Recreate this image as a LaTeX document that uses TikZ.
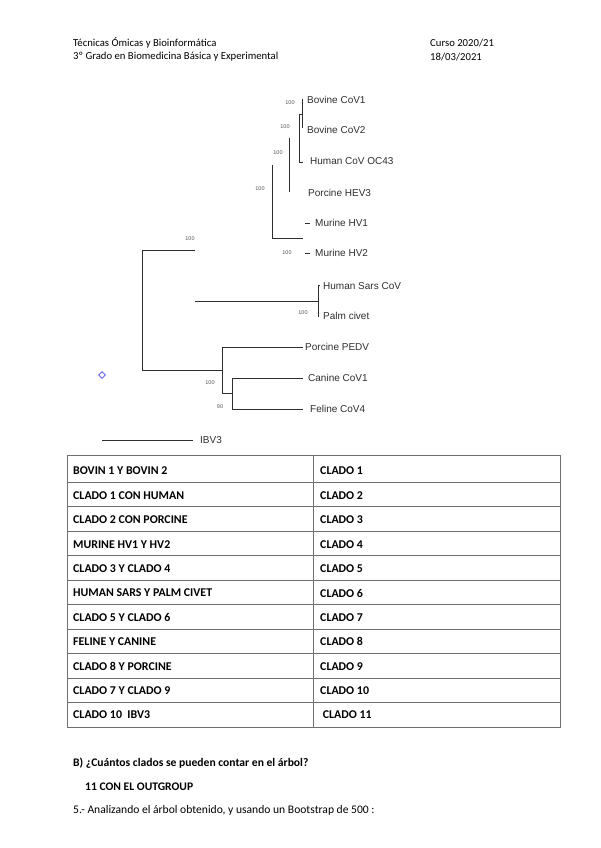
\documentclass[tikz,border=0pt]{standalone}
\usepackage{fontspec}
\setmainfont{Carlito}
\newfontfamily\treefont{Liberation Sans}
\usetikzlibrary{shapes.geometric}
\definecolor{TreeInk}{HTML}{2E2E2E}
\definecolor{TreeMuted}{HTML}{555555}
\definecolor{MarkBlue}{HTML}{4A4AE8}
\definecolor{RuleGray}{HTML}{707070}

\begin{document}
\begin{tikzpicture}[
        x=1pt,y=-1pt,
        head/.style={anchor=west,inner sep=0pt,font=\fontsize{10.7}{12}\selectfont},
        taxon/.style={anchor=west,inner sep=0pt,text=TreeInk,
          font=\treefont\fontsize{10}{12}\selectfont},
        boot/.style={inner sep=0pt,text=TreeMuted,font=\treefont\fontsize{5.5}{6}\selectfont},
        branch/.style={draw=TreeInk,line width=0.8pt},
        cell/.style={anchor=west,inner sep=0pt,font=\bfseries\fontsize{11.9}{13}\selectfont},
        grid/.style={draw=RuleGray,line width=0.8pt},
        body/.style={anchor=west,inner sep=0pt,font=\fontsize{11.6}{13}\selectfont}
      ]
        \useasboundingbox (0,0) rectangle (600,848);
        % header
        \node[head] (course) at (73,43) {Técnicas Ómicas y Bioinformática};
        \node[head] (degree) at (73,57) {3º Grado en Biomedicina Básica y Experimental};
        \node[head] (year) at (430,43) {Curso 2020/21};
        \node[head] (date) at (430,57) {18/03/2021};
        % taxa
        \node[taxon] (bov1) at (307,100) {Bovine CoV1};
        \node[taxon] (bov2) at (307,130) {Bovine CoV2};
        \node[taxon] (oc43) at (310,161) {Human CoV OC43};
        \node[taxon] (hev3) at (308,193) {Porcine HEV3};
        \node[taxon] (mhv1) at (315,223) {Murine HV1};
        \node[taxon] (mhv2) at (315,253) {Murine HV2};
        \node[taxon] (sars) at (323,286) {Human Sars CoV};
        \node[taxon] (civet) at (323,316) {Palm civet};
        \node[taxon] (pedv) at (305,347) {Porcine PEDV};
        \node[taxon] (ccov) at (308,378) {Canine CoV1};
        \node[taxon] (fcov) at (310,409) {Feline CoV4};
        \node[taxon] (ibv) at (200,440) {IBV3};
        % branch points
        \coordinate (bovA) at (302,99);
        \coordinate (bovB) at (302,128);
        \coordinate (ocA) at (299,114);
        \coordinate (ocB) at (299,162);
        \coordinate (hevA) at (289,138);
        \coordinate (hevB) at (289,192);
        \coordinate (murA) at (272,165);
        \coordinate (murB) at (272,238);
        \coordinate (rootA) at (142,250);
        \coordinate (rootB) at (142,370);
        \coordinate (sarsA) at (318,285);
        \coordinate (sarsB) at (318,317);
        \coordinate (sarsC) at (195,301);
        \coordinate (pedvA) at (222,347);
        \coordinate (pedvB) at (222,393);
        \coordinate (felA) at (232,378);
        \coordinate (felB) at (232,409);
        \coordinate (ibvA) at (102,440);
        % branches
        \draw[branch] (bovA) -- (bovB);
        \draw[branch] (bovA |- ocA) -- (ocA) -- (ocB) -- ++(4,0);
        \draw[branch] (hevA) -- (hevB);
        \draw[branch] (murA) -- (murB) -- ++(31,0);
        \draw[branch] ([xshift=-10pt]mhv1.west) -- ++(5,0);
        \draw[branch] ([xshift=-10pt]mhv2.west) -- ++(5,0);
        \draw[branch] (rootA) ++(53,0) -- (rootA) -- (rootB) -- (pedvA |- rootB);
        \draw[branch] (sarsC) -- (sarsC -| sarsA);
        \draw[branch] (sarsA) ++(2,0) -- (sarsA) -- (sarsB);
        \draw[branch] (pedv.west) ++(-2,0) -- (pedvA) -- (pedvB) -- (felA |- pedvB);
        \draw[branch] (ccov.west) ++(-5,0) -- (felA) -- (felB) -- ([xshift=-7pt]fcov.west);
        \draw[branch] (ibvA) -- ([xshift=-7pt]ibv.west);
        \node[diamond,draw=MarkBlue,line width=0.6pt,inner sep=0pt,minimum size=7pt] (mark) at (102,375) {};
        % bootstrap values
        \node[boot] (b1) at (290,103) {100};
        \node[boot] (b2) at (285,127) {100};
        \node[boot] (b3) at (278,153) {100};
        \node[boot] (b4) at (260,189) {100};
        \node[boot] (b5) at (287,253) {100};
        \node[boot] (b6) at (190,239) {100};
        \node[boot] (b7) at (303,313) {100};
        \node[boot] (b8) at (210,383) {100};
        \node[boot] (b9) at (220,407) {90};
        % table
        \draw[grid] (67,455) rectangle (560,727);
        \draw[grid] (313,455) -- (313,727);
        \foreach \i in {0,...,9}
          \draw[grid] (67,482+24.5*\i) -- (560,482+24.5*\i);
        \foreach \pair/\clade [count=\i from 0] in {
            BOVIN 1 Y BOVIN 2/CLADO 1,
            CLADO 1 CON HUMAN/CLADO 2,
            CLADO 2 CON PORCINE/CLADO 3,
            MURINE HV1 Y HV2/CLADO 4,
            CLADO 3 Y CLADO 4/CLADO 5,
            HUMAN SARS Y PALM CIVET/CLADO 6,
            CLADO 5 Y CLADO 6/CLADO 7,
            FELINE Y CANINE/CLADO 8,
            CLADO 8 Y PORCINE/CLADO 9,
            CLADO 7 Y CLADO 9/CLADO 10,
            CLADO 10\ \ IBV3/\ CLADO 11}{
          \node[cell] (pair\i) at (73,471+24.4*\i) {\pair};
          \node[cell] (clade\i) at (320,471+24.4*\i) {\clade};
        }
        % questions
        \node[body,font=\bfseries\fontsize{11.6}{13}\selectfont] (question) at (73,763)
          {B) ¿Cuántos clados se pueden contar en el árbol?};
        \node[body,font=\bfseries\fontsize{11.6}{13}\selectfont] (answer) at (85,787)
          {11 CON EL OUTGROUP};
        \node[body] (next) at (73,810)
          {5.- Analizando el árbol obtenido, y usando un Bootstrap de 500 :};
      \end{tikzpicture}
\end{document}
